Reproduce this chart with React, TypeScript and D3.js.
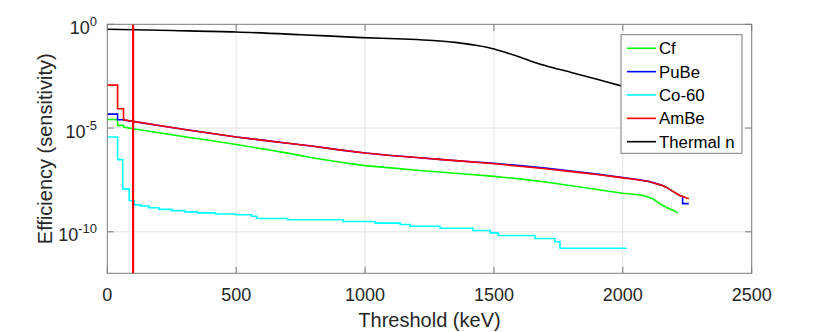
import React from 'react';
import * as d3 from 'd3';

// ---------- data (threshold in keV, efficiency as log10 value) ----------
const xTickValues = [0, 500, 1000, 1500, 2000, 2500];
const yTickExponents = [0, -5, -10];
const legendLabels = ['Cf', 'PuBe', 'Co-60', 'AmBe', 'Thermal n'];
const seriesColors = ['#00ff00', '#0000ff', '#00ffff', '#ff0000', '#000000'];
const thresholdMarkerKeV = 100;

const cfKeV = [0, 40, 40, 63, 63, 100, 200, 300, 400, 500, 600, 700, 800, 900, 1000, 1100, 1200, 1300, 1400, 1500, 1600, 1700, 1800, 1900, 2000, 2078, 2116, 2143, 2174, 2194, 2213];
const cfLogEff = [-4.59, -4.59, -4.87, -4.87, -4.95, -5.03, -5.23, -5.42, -5.6, -5.79, -6.0, -6.21, -6.44, -6.64, -6.81, -6.92, -7.03, -7.13, -7.23, -7.33, -7.45, -7.6, -7.78, -7.96, -8.14, -8.24, -8.41, -8.64, -8.85, -8.96, -9.09];

const pubeKeV = [0, 40, 40, 63, 63, 100, 200, 300, 400, 500, 600, 700, 800, 900, 1000, 1100, 1200, 1300, 1400, 1500, 1600, 1700, 1800, 1900, 2000, 2050, 2100, 2150, 2170, 2194, 2221, 2232, 2232, 2256];
const pubeLogEff = [-4.33, -4.33, -4.6, -4.6, -4.62, -4.68, -4.88, -5.07, -5.25, -5.43, -5.58, -5.73, -5.88, -6.05, -6.2, -6.32, -6.42, -6.52, -6.61, -6.7, -6.81, -6.93, -7.07, -7.22, -7.38, -7.47, -7.57, -7.75, -7.86, -8.05, -8.25, -8.3, -8.64, -8.64];

const coKeV = [0, 40, 60, 85, 105, 130, 160, 200, 250, 300, 350, 420, 500, 560, 580, 700, 915, 1040, 1136, 1174, 1291, 1419, 1485, 1516, 1659, 1736, 1756, 2014];
const coLogEff = [-5.43, -6.52, -7.93, -8.5, -8.7, -8.76, -8.84, -8.92, -8.98, -9.04, -9.09, -9.14, -9.18, -9.25, -9.36, -9.42, -9.5, -9.58, -9.65, -9.73, -9.83, -9.94, -10.05, -10.18, -10.32, -10.48, -10.79, -10.79];

const ambeKeV = [0, 40, 40, 63, 63, 100, 200, 300, 400, 500, 600, 700, 800, 900, 1000, 1100, 1200, 1300, 1400, 1500, 1600, 1700, 1800, 1900, 2000, 2050, 2100, 2150, 2170, 2194, 2221, 2240, 2256];
const ambeLogEff = [-2.93, -2.93, -4.07, -4.07, -4.6, -4.68, -4.88, -5.07, -5.25, -5.43, -5.58, -5.73, -5.88, -6.05, -6.2, -6.32, -6.42, -6.52, -6.62, -6.72, -6.84, -6.96, -7.1, -7.24, -7.4, -7.48, -7.58, -7.76, -7.86, -8.05, -8.25, -8.33, -8.41];

const thermalKeV = [0, 250, 500, 750, 988, 1150, 1264, 1350, 1420, 1477, 1540, 1600, 1650, 1698, 1800, 1900, 1956, 2000];
const thermalLogEff = [-0.24, -0.3, -0.37, -0.5, -0.64, -0.71, -0.78, -0.87, -0.99, -1.12, -1.34, -1.58, -1.8, -1.99, -2.32, -2.65, -2.84, -2.99];

// ---------- layout ----------
const W = 830;
const H = 332;
const left = 107.3;
const right = 751.7;
const top = 24.3;
const bottom = 273.3;
const font = '"Liberation Sans", Arial, Helvetica, sans-serif';
const textColor = '#262626';
const axisColor = '#7a7a7a';
const gridColor = '#e3e3e3';
const tickLen = 6.5;

type Series = { xs: number[]; ys: number[]; curve: d3.CurveFactory };

export default function App() {
  const x = d3.scaleLinear().domain([0, 2500]).range([left, right]);
  const y = d3.scaleLog().domain([1e-12, 1]).range([bottom, top]);

  const series: Series[] = [
    { xs: cfKeV, ys: cfLogEff, curve: d3.curveLinear },
    { xs: pubeKeV, ys: pubeLogEff, curve: d3.curveLinear },
    { xs: coKeV, ys: coLogEff, curve: d3.curveStepAfter },
    { xs: ambeKeV, ys: ambeLogEff, curve: d3.curveLinear },
    { xs: thermalKeV, ys: thermalLogEff, curve: d3.curveMonotoneX },
  ];

  const makePath = (s: Series) => {
    const pts: [number, number][] = s.xs.map((k, i) => [k, Math.pow(10, s.ys[i])]);
    const gen = d3
      .line<[number, number]>()
      .x((d) => x(d[0]))
      .y((d) => y(d[1]))
      .curve(s.curve);
    return gen(pts) || '';
  };

  const yTickVals = yTickExponents.map((e) => Math.pow(10, e));

  const legX = 621;
  const legY = 34.7;
  const legW = 121;
  const legH = 118.6;
  const rowH = 23.35;

  return (
    <svg
      width={W}
      height={H}
      style={{ position: 'fixed', left: 0, top: 0, background: '#fff' }}
      fontFamily={font}
    >
      <rect x={0} y={0} width={W} height={H} fill="#fff" />
      {/* grid */}
      <g stroke={gridColor} strokeWidth={1}>
        {xTickValues.slice(1, -1).map((v) => (
          <line key={'gx' + v} x1={x(v)} x2={x(v)} y1={top} y2={bottom} />
        ))}
        {yTickVals.slice(1).map((v, i) => (
          <line key={'gy' + i} x1={left} x2={right} y1={y(v)} y2={y(v)} />
        ))}
      </g>

      {/* data */}
      <g fill="none" strokeWidth={1.6} strokeLinejoin="miter">
        {series.map((s, i) => (
          <path key={i} d={makePath(s)} stroke={seriesColors[i]} />
        ))}
      </g>
      <line
        x1={x(thresholdMarkerKeV)}
        x2={x(thresholdMarkerKeV)}
        y1={y(1)}
        y2={y(1e-12)}
        stroke="#ff0000"
        strokeWidth={2.2}
      />

      {/* axes box + ticks */}
      <g stroke={axisColor} strokeWidth={1} fill="none">
        <rect x={left} y={top} width={right - left} height={bottom - top} />
        {xTickValues.map((v) => (
          <g key={'tx' + v}>
            <line x1={x(v)} x2={x(v)} y1={bottom} y2={bottom - tickLen} />
            <line x1={x(v)} x2={x(v)} y1={top} y2={top + tickLen} />
          </g>
        ))}
        {yTickVals.map((v, i) => (
          <g key={'ty' + i}>
            <line x1={left} x2={left + tickLen} y1={y(v)} y2={y(v)} />
            <line x1={right} x2={right - tickLen} y1={y(v)} y2={y(v)} />
          </g>
        ))}
      </g>

      {/* tick labels */}
      <g fill={textColor} fontSize={18}>
        {xTickValues.map((v) => (
          <text key={'lx' + v} x={x(v)} y={300.5} textAnchor="middle">
            {v}
          </text>
        ))}
        {yTickExponents.map((e, i) => (
          <text key={'ly' + i} x={97} y={y(yTickVals[i]) + 9.5} textAnchor="end">
            <tspan>10</tspan>
            <tspan fontSize={13} dy={-8}>
              {String(e)}
            </tspan>
          </text>
        ))}
      </g>

      {/* axis labels */}
      <text x={(left + right) / 2} y={327} textAnchor="middle" fontSize={20} fill={textColor}>
        Threshold (keV)
      </text>
      <text
        transform={`translate(52,${(top + bottom) / 2}) rotate(-90)`}
        textAnchor="middle"
        fontSize={20}
        fill={textColor}
      >
        Efficiency (sensitivity)
      </text>

      {/* legend */}
      <g>
        <rect x={legX} y={legY} width={legW} height={legH} fill="#fff" stroke={axisColor} strokeWidth={1} />
        {legendLabels.map((lab, i) => {
          const cy = legY + 13.6 + i * rowH;
          return (
            <g key={lab}>
              <line x1={627} x2={656} y1={cy} y2={cy} stroke={seriesColors[i]} strokeWidth={1.6} />
              <text x={659} y={cy + 6} fontSize={16.8} fill="#000">
                {lab}
              </text>
            </g>
          );
        })}
      </g>
    </svg>
  );
}
